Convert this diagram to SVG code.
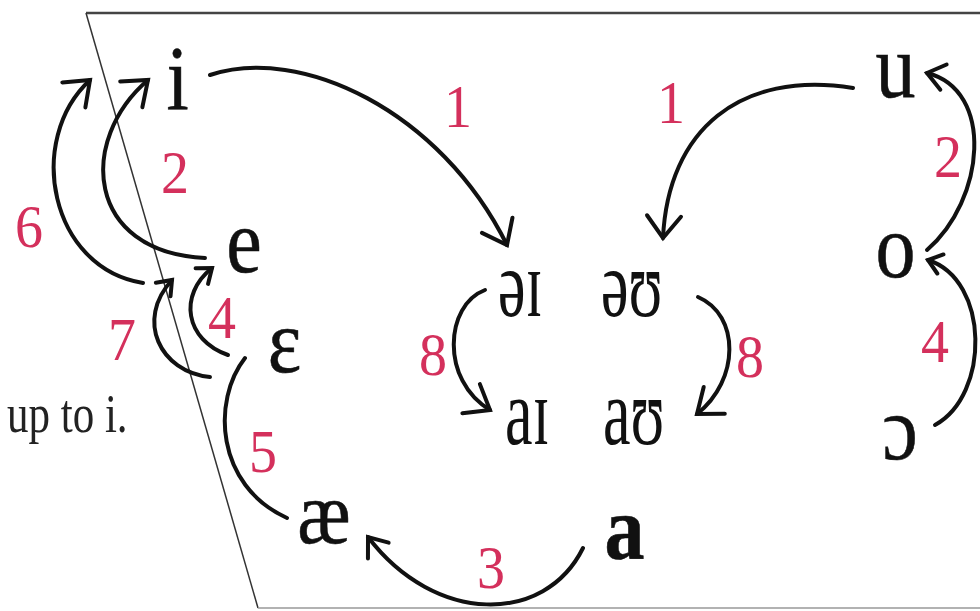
<svg xmlns="http://www.w3.org/2000/svg" width="980" height="611" viewBox="0 0 980 611">
<style>
.v{font-size:80px;fill:#111;stroke:#111;stroke-width:0.5;text-anchor:middle}
.d{font-size:62px;fill:#111}
.n{font-size:56px;fill:#d4305c;text-anchor:middle}
.t{font-size:43px;fill:#222}
.c{fill:none;stroke:#111;stroke-width:4;stroke-linecap:round}
.ah{fill:none;stroke:#111;stroke-width:4;stroke-linecap:round;stroke-linejoin:miter}
</style>
<defs>
<marker id="aL" markerUnits="userSpaceOnUse" orient="auto" refX="0" refY="0" markerWidth="40" markerHeight="40" overflow="visible"><path class="ah" d="M-22,-17 L0,0 L-22,17"/></marker>
<marker id="aM" markerUnits="userSpaceOnUse" orient="auto" refX="0" refY="0" markerWidth="40" markerHeight="40" overflow="visible"><path class="ah" d="M-17,-13 L0,0 L-17,13"/></marker>
<marker id="aS" markerUnits="userSpaceOnUse" orient="auto" refX="0" refY="0" markerWidth="40" markerHeight="40" overflow="visible"><path class="ah" d="M-13,-10 L0,0 L-13,10"/></marker>
</defs>
<rect width="980" height="611" fill="#fff"/>
<g id="frame">
<line x1="86" y1="13" x2="980" y2="13" stroke="#444" stroke-width="2.5"/>
<line x1="86" y1="13" x2="258" y2="608" stroke="#333" stroke-width="1.5"/>
<line x1="258" y1="608" x2="980" y2="608" stroke="#999" stroke-width="1.5"/>
</g>
<g font-family="'Liberation Serif', 'Times New Roman', serif">
<text class="t" transform="translate(7,432) scale(1,1.27)">up to i.</text>
<g id="connectors">
<path class="c" d="M210,75 C300,45 440,110 507,245" marker-end="url(#aL)"/>
<path class="c" d="M853,88 C740,70 668,130 663,238" marker-end="url(#aL)"/>
<path class="c" d="M205,258 C85,252 78,140 148,80" marker-end="url(#aL)"/>
<path class="c" d="M143,283 C50,268 25,140 90,80" marker-end="url(#aL)"/>
<path class="c" d="M228,355 C185,340 178,295 212,268" marker-end="url(#aS)"/>
<path class="c" d="M210,377 C160,372 135,320 172,280" marker-end="url(#aS)"/>
<path class="c" d="M245,358 C212,400 215,485 287,518"/>
<path class="c" d="M485,290 C445,305 440,380 490,410" marker-end="url(#aL)"/>
<path class="c" d="M698,297 C740,315 740,380 697,414" marker-end="url(#aL)"/>
<path class="c" d="M927,250 C985,200 995,90 927,73" marker-end="url(#aM)"/>
<path class="c" d="M935,425 C990,395 990,280 928,260" marker-end="url(#aS)"/>
<path class="c" d="M583,548 C545,625 435,625 368,537" marker-end="url(#aM)"/>
<g id="labels">
<text class="n" transform="translate(458,127) scale(1,1.1)">1</text>
<text class="n" transform="translate(671,123) scale(1,1.1)">1</text>
<text class="n" transform="translate(175,193) scale(1,1.1)">2</text>
<text class="n" transform="translate(29,247) scale(1,1.1)">6</text>
<text class="n" transform="translate(948,177) scale(1,1.1)">2</text>
<text class="n" transform="translate(222,338) scale(1,1.1)">4</text>
<text class="n" transform="translate(122,360) scale(1,1.1)">7</text>
<text class="n" transform="translate(263,472) scale(1,1.1)">5</text>
<text class="n" transform="translate(433,375) scale(1,1.1)">8</text>
<text class="n" transform="translate(750,377) scale(1,1.1)">8</text>
<text class="n" transform="translate(935,362) scale(1,1.1)">4</text>
<text class="n" transform="translate(491,588) scale(1,1.1)">3</text>
</g>
</g>
<g id="node-i"><text class="v" transform="translate(177.5,109) scale(1,1.13)">i</text></g>
<g id="node-e"><text class="v" transform="translate(244,272) scale(1,1.13)">e</text></g>
<g id="node-epsilon"><text class="v" transform="translate(284.5,372) scale(1,1.13)">ɛ</text></g>
<g id="node-ae"><text class="v" transform="translate(324,543) scale(1,1.1)">æ</text></g>
<g id="node-a"><text class="v" font-weight="bold" font-size="92" transform="translate(624.5,559) scale(1,1.15)">a</text></g>
<g id="node-u"><text class="v" transform="translate(895.5,97) scale(1,1.13)">u</text></g>
<g id="node-o"><text class="v" transform="translate(895.5,277) scale(1,1.13)">o</text></g>
<g id="node-open-o"><text class="v" transform="translate(900,459) scale(1,1.13)">ɔ</text></g>
<g id="node-schwa-i"><text class="d" transform="translate(498,316) scale(1,1.55)">əɪ</text></g>
<g id="node-schwa-u"><text class="d" transform="translate(601,316) scale(1,1.55)">əʊ</text></g>
<g id="node-a-i"><text class="d" transform="translate(505,444) scale(1,1.55)">aɪ</text></g>
<g id="node-a-u"><text class="d" transform="translate(603,444) scale(1,1.55)">aʊ</text></g>
</g>
</svg>
